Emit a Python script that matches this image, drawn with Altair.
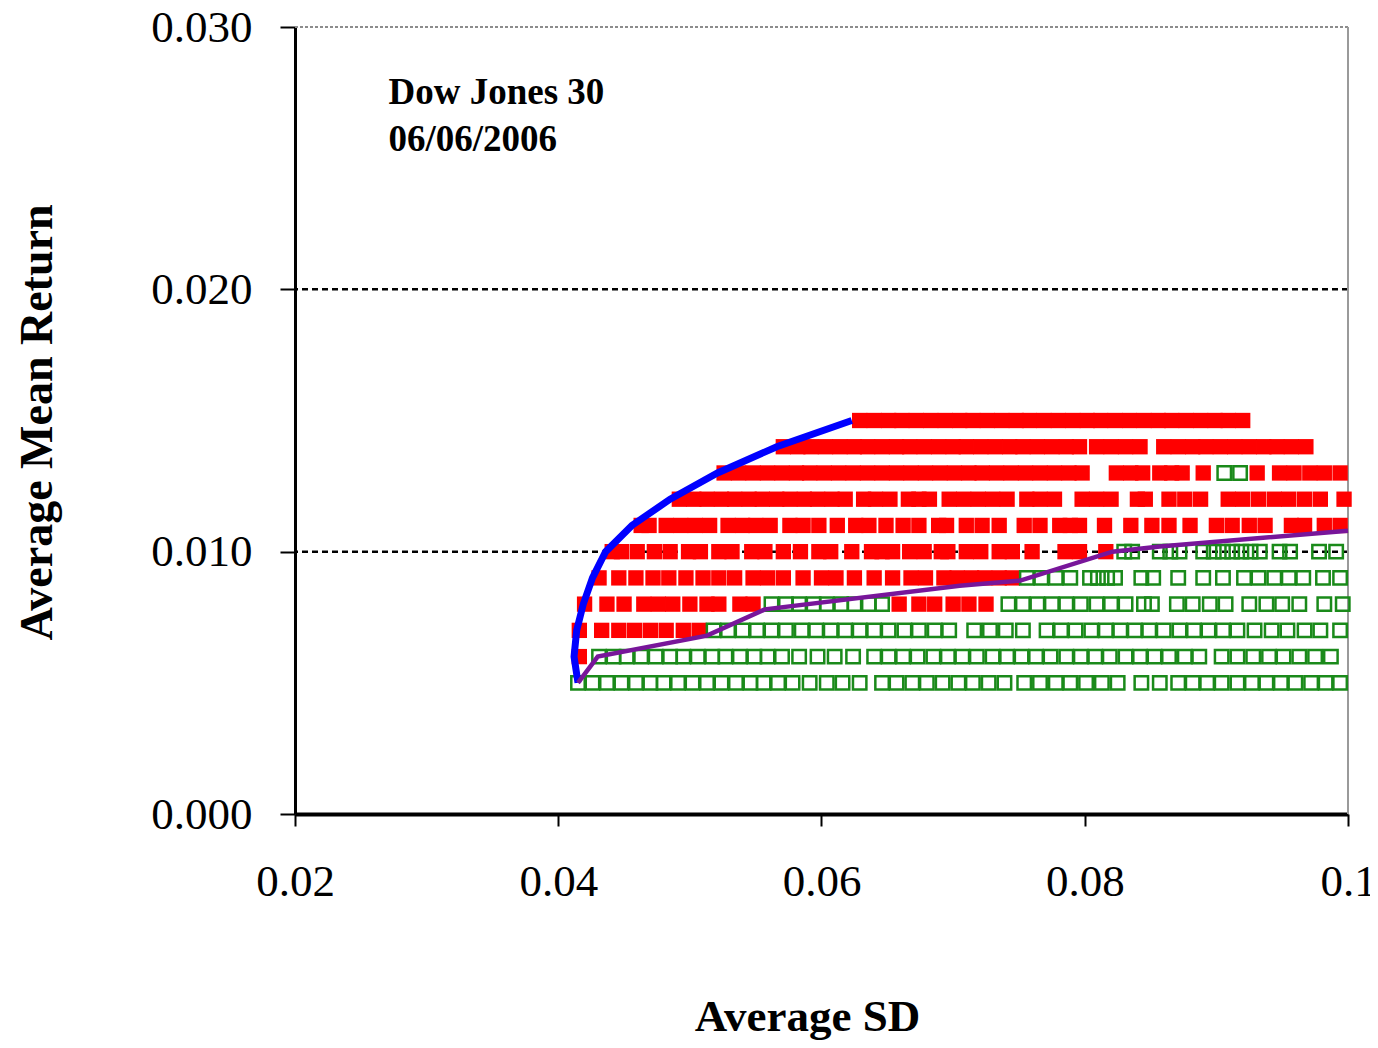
import altair as alt
import pandas as pd

# ---------------- data ----------------
# red filled squares, one list of Average SD values per Average Mean Return row
red_015 = [0.0629, 0.0640, 0.0651, 0.0661, 0.0672, 0.0683, 0.0694, 0.0705, 0.0715, 0.0726,
           0.0737, 0.0748, 0.0758, 0.0769, 0.0780, 0.0791, 0.0802, 0.0812, 0.0823, 0.0834,
           0.0845, 0.0856, 0.0866, 0.0877, 0.0888, 0.0899, 0.0909, 0.0920]
red_014 = [0.0571, 0.0582, 0.0592, 0.0603, 0.0614, 0.0625, 0.0635, 0.0646, 0.0657, 0.0667,
           0.0678, 0.0689, 0.0700, 0.0710, 0.0721, 0.0732, 0.0743, 0.0753, 0.0764, 0.0775,
           0.0786, 0.0796, 0.0809, 0.0820, 0.0831, 0.0842, 0.0860, 0.0871, 0.0882, 0.0892,
           0.0903, 0.0914, 0.0925, 0.0936, 0.0946, 0.0957, 0.0968]
red_013 = [0.0526, 0.0537, 0.0548, 0.0559, 0.0570, 0.0581, 0.0591, 0.0602, 0.0613, 0.0624,
           0.0635, 0.0646, 0.0657, 0.0668, 0.0679, 0.0690, 0.0701, 0.0712, 0.0722, 0.0733,
           0.0744, 0.0755, 0.0766, 0.0777, 0.0788, 0.0798, 0.0824, 0.0835, 0.0844, 0.0857,
           0.0866, 0.0874, 0.0890, 0.0931, 0.0948, 0.0959, 0.0971, 0.0982, 0.0994]
red_012 = [0.0492, 0.0503, 0.0513, 0.0524, 0.0534, 0.0545, 0.0555, 0.0566, 0.0576, 0.0587,
           0.0597, 0.0608, 0.0618, 0.0632, 0.0641, 0.0652, 0.0666, 0.0674, 0.0682, 0.0697,
           0.0708, 0.0719, 0.0730, 0.0741, 0.0756, 0.0766, 0.0777, 0.0798, 0.0809, 0.0820,
           0.0840, 0.0846, 0.0864, 0.0876, 0.0888, 0.0909, 0.0920, 0.0932, 0.0944, 0.0955,
           0.0967, 0.0979, 0.0997]
red_011 = [0.0463, 0.0469, 0.0482, 0.0493, 0.0504, 0.0515, 0.0529, 0.0540, 0.0550, 0.0561,
           0.0576, 0.0586, 0.0598, 0.0612, 0.0626, 0.0636, 0.0649, 0.0662, 0.0674, 0.0689,
           0.0695, 0.0710, 0.0722, 0.0735, 0.0754, 0.0766, 0.0781, 0.0789, 0.0796, 0.0815,
           0.0835, 0.0851, 0.0864, 0.0880, 0.0900, 0.0912, 0.0925, 0.0937, 0.0957, 0.0967,
           0.0982, 0.0994]
red_010 = [0.0441, 0.0448, 0.0460, 0.0473, 0.0485, 0.0499, 0.0508, 0.0522, 0.0532, 0.0547,
           0.0557, 0.0571, 0.0584, 0.0598, 0.0607, 0.0623, 0.0638, 0.0646, 0.0654, 0.0667,
           0.0678, 0.0691, 0.0696, 0.0710, 0.0721, 0.0735, 0.0745, 0.0760, 0.0785, 0.0796,
           0.0816]
red_009 = [0.0431, 0.0446, 0.0459, 0.0472, 0.0484, 0.0497, 0.0510, 0.0522, 0.0534, 0.0548,
           0.0559, 0.0571, 0.0586, 0.0600, 0.0611, 0.0625, 0.0640, 0.0654, 0.0668, 0.0679,
           0.0693, 0.0703, 0.0714, 0.0724, 0.0735, 0.0745]
red_008 = [0.0420, 0.0437, 0.0450, 0.0465, 0.0476, 0.0487, 0.0500, 0.0513, 0.0522, 0.0538,
           0.0548, 0.0659, 0.0674, 0.0686, 0.0700, 0.0712, 0.0725]
red_007 = [0.0416, 0.0433, 0.0446, 0.0458, 0.0470, 0.0482, 0.0495, 0.0507]
red_006 = [0.0416]

# green open squares
green_013 = [0.0906, 0.0918]
green_010 = [0.0830, 0.0836, 0.0857, 0.0865, 0.0872, 0.0890, 0.0898, 0.0905, 0.0912, 0.0919,
             0.0926, 0.0933, 0.0948, 0.0956, 0.0978, 0.0991]
green_009 = [0.0756, 0.0767, 0.0778, 0.0789, 0.0804, 0.0810, 0.0817, 0.0823, 0.0843, 0.0852,
             0.0871, 0.0890, 0.0905, 0.0921, 0.0932, 0.0944, 0.0955, 0.0966, 0.0981, 0.0994]
green_008 = [0.0562, 0.0573, 0.0583, 0.0594, 0.0604, 0.0615, 0.0625, 0.0636, 0.0646, 0.0742,
             0.0753, 0.0764, 0.0775, 0.0786, 0.0797, 0.0809, 0.0820, 0.0831, 0.0845, 0.0851,
             0.0870, 0.0882, 0.0895, 0.0907, 0.0925, 0.0938, 0.0950, 0.0963, 0.0982, 0.0996]
green_007 = [0.0518, 0.0529, 0.0540, 0.0551, 0.0562, 0.0573, 0.0585, 0.0596, 0.0607, 0.0618,
             0.0629, 0.0640, 0.0651, 0.0663, 0.0674, 0.0686, 0.0697, 0.0716, 0.0728, 0.0740,
             0.0753, 0.0771, 0.0782, 0.0793, 0.0805, 0.0816, 0.0827, 0.0838, 0.0849, 0.0860,
             0.0872, 0.0883, 0.0894, 0.0905, 0.0916, 0.0929, 0.0942, 0.0954, 0.0967, 0.0979,
             0.0994]
green_006 = [0.0431, 0.0442, 0.0452, 0.0463, 0.0474, 0.0485, 0.0495, 0.0506, 0.0517, 0.0527,
             0.0538, 0.0549, 0.0559, 0.0570, 0.0583, 0.0597, 0.0610, 0.0624, 0.0640, 0.0651,
             0.0662, 0.0673, 0.0685, 0.0696, 0.0707, 0.0718, 0.0730, 0.0741, 0.0752, 0.0763,
             0.0774, 0.0786, 0.0797, 0.0808, 0.0819, 0.0831, 0.0842, 0.0853, 0.0864, 0.0876,
             0.0887, 0.0904, 0.0916, 0.0928, 0.0940, 0.0951, 0.0963, 0.0975, 0.0987]
green_005 = [0.0415, 0.0426, 0.0437, 0.0448, 0.0459, 0.0470, 0.0480, 0.0491, 0.0502, 0.0513,
             0.0524, 0.0535, 0.0546, 0.0556, 0.0567, 0.0578, 0.0591, 0.0604, 0.0616, 0.0629,
             0.0646, 0.0657, 0.0669, 0.0680, 0.0692, 0.0704, 0.0715, 0.0727, 0.0739, 0.0754,
             0.0766, 0.0778, 0.0789, 0.0801, 0.0813, 0.0825, 0.0843, 0.0857, 0.0871, 0.0882,
             0.0893, 0.0904, 0.0916, 0.0927, 0.0938, 0.0949, 0.0960, 0.0972, 0.0983, 0.0994]

# efficient frontier (blue) and the purple line
frontier_sd = [0.0415, 0.0412, 0.0414, 0.0419, 0.0426, 0.0436, 0.0456, 0.0485, 0.0521, 0.0566, 0.0623]
frontier_ret = [0.0050, 0.0060, 0.0070, 0.0080, 0.0090, 0.0100, 0.0110, 0.0120, 0.0130, 0.0140, 0.0150]
purple_sd = [0.0415, 0.0430, 0.0513, 0.0557, 0.0705, 0.0751, 0.0821, 0.0857, 0.1000]
purple_ret = [0.0050, 0.0060, 0.0068, 0.0078, 0.0087, 0.0089, 0.0100, 0.0102, 0.0108]

# annotation
note_text = ["Dow Jones 30", "06/06/2006"]
note_sd = [0.0271, 0.0271]
note_ret = [0.0275, 0.0257]

# axes
x_ticks = [0.02, 0.04, 0.06, 0.08, 0.1]
y_ticks = [0.0, 0.01, 0.02, 0.03]
grid_ret = [0.01, 0.02]
top_ret = [0.03]
right_sd = [0.1]

# ---------------- build tables ----------------
red_rows = [(0.015, red_015), (0.014, red_014), (0.013, red_013), (0.012, red_012),
            (0.011, red_011), (0.010, red_010), (0.009, red_009), (0.008, red_008),
            (0.007, red_007), (0.006, red_006)]
green_rows = [(0.013, green_013), (0.010, green_010), (0.009, green_009), (0.008, green_008),
              (0.007, green_007), (0.006, green_006), (0.005, green_005)]

red_df = pd.DataFrame([{"sd": x, "ret": r} for r, xs in red_rows for x in xs])
green_df = pd.DataFrame([{"sd": x, "ret": r} for r, xs in green_rows for x in xs])
front_df = pd.DataFrame({"sd": frontier_sd, "ret": frontier_ret, "i": list(range(len(frontier_sd)))})
purple_df = pd.DataFrame({"sd": purple_sd, "ret": purple_ret, "i": list(range(len(purple_sd)))})
note_df = pd.DataFrame({"sd": note_sd, "ret": note_ret, "t": note_text})

SERIF = "Liberation Serif"
xscale = alt.Scale(domain=[0.02, 0.1], nice=False, zero=False)
yscale = alt.Scale(domain=[0.0, 0.03], nice=False, zero=False)

x_axis = alt.Axis(values=x_ticks, labelExpr="format(datum.value, '.2~f')", labelFlush=False,
                  title="Average SD", titleFont=SERIF, titleFontSize=45, titleFontWeight="bold",
                  titleColor="black", titleX=512, titleY=202, titleBaseline="middle", titleAlign="center",
                  labelFont=SERIF, labelFontSize=45, labelColor="black", labelPadding=33,
                  tickSize=12, tickWidth=2, tickColor="black", domainColor="black", domainWidth=4,
                  grid=False)
y_axis = alt.Axis(values=y_ticks, format=".3f", labelFlush=False,
                  title="Average Mean Return", titleFont=SERIF, titleFontSize=46, titleFontWeight="bold",
                  titleColor="black", titleAngle=270, titleX=-258, titleY=395, titleBaseline="middle",
                  titleAlign="center",
                  labelFont=SERIF, labelFontSize=45, labelColor="black", labelPadding=28,
                  tickSize=15, tickWidth=2, tickColor="black", domainColor="black", domainWidth=3,
                  grid=False)

X = lambda: alt.X("sd:Q", scale=xscale, axis=x_axis)
Y = lambda: alt.Y("ret:Q", scale=yscale, axis=y_axis)

grid = alt.Chart(pd.DataFrame({"ret": grid_ret})).mark_rule(
    color="black", strokeWidth=2.5, strokeDash=[6, 4]).encode(y=Y())
top = alt.Chart(pd.DataFrame({"ret": top_ret})).mark_rule(
    color="#8c8c8c", strokeWidth=2, strokeDash=[3, 2]).encode(y=Y())
right = alt.Chart(pd.DataFrame({"sd": right_sd})).mark_rule(
    color="#9a9a9a", strokeWidth=2).encode(x=X())

red = alt.Chart(red_df).mark_square(color="#ff0000", filled=True, size=235, opacity=1).encode(x=X(), y=Y())
green = alt.Chart(green_df).mark_square(filled=False, stroke="#1a8a1a", strokeWidth=2.5, size=180,
                                        opacity=1).encode(x=X(), y=Y())
front = alt.Chart(front_df).mark_line(color="#0000ff", strokeWidth=7).encode(
    x=X(), y=Y(), order="i:Q")
purple = alt.Chart(purple_df).mark_line(color="#78169a", strokeWidth=4.5).encode(
    x=X(), y=Y(), order="i:Q")
note = alt.Chart(note_df).mark_text(font=SERIF, fontSize=37, fontWeight="bold", align="left",
                                    baseline="middle", color="black").encode(x=X(), y=Y(), text="t:N")

chart = alt.layer(grid, top, right, red, green, front, purple, note).properties(
    width=1053, height=787,
    autosize=alt.AutoSizeParams(type="none"),
    padding={"left": 287, "top": 19, "right": 22, "bottom": 226},
    background="white",
).configure_view(strokeWidth=0)

chart.save("out.html", embed_options={"renderer": "svg", "actions": False})
